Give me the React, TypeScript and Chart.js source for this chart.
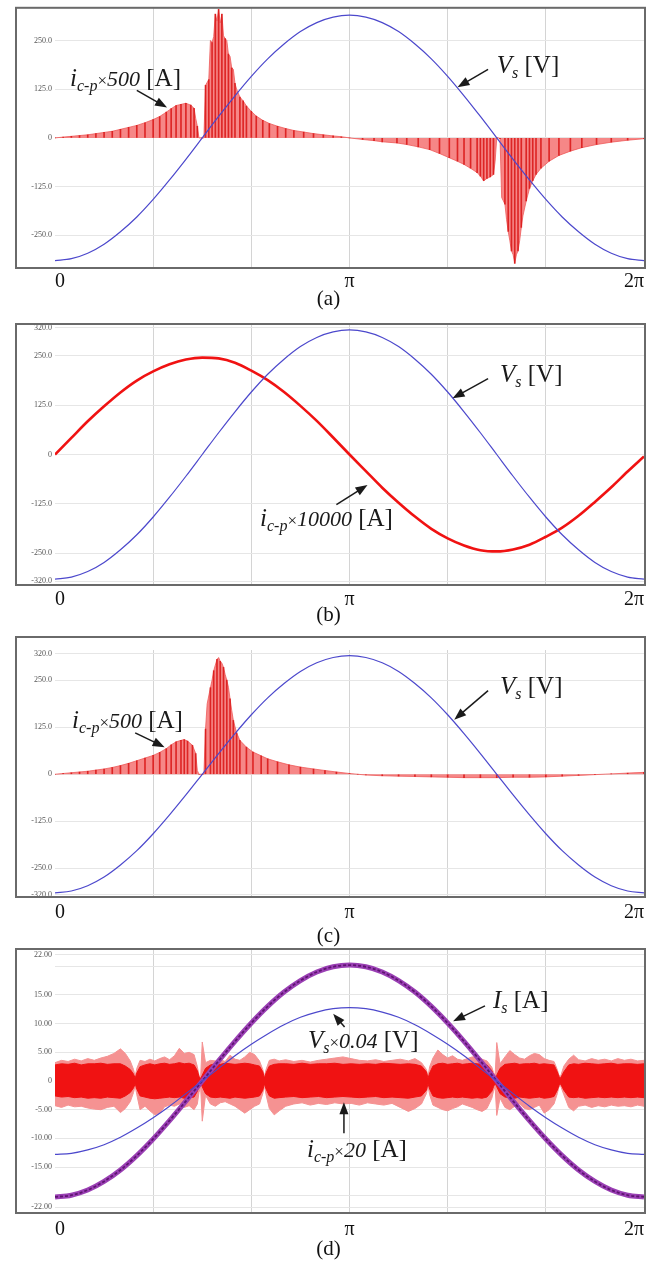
import React, { useEffect, useRef } from 'react';
import { Chart, registerables } from 'chart.js';

Chart.register(...registerables);

const SERIF = '"Liberation Serif", "Times New Roman", Times, serif';

// ---------- data (phase in degrees, 360 = 2π) ----------
const PHASE_DEG = [0, 10, 20, 30, 40, 50, 60, 70, 80, 90, 100, 110, 120, 130, 140, 150, 160, 170, 180, 190, 200, 210, 220, 230, 240, 250, 260, 270, 280, 290, 300, 310, 320, 330, 340, 350, 360];

// supply voltage Vs [V] (panels a, b, c)
const VS_V = [-315, -310, -296, -273, -241, -203, -158, -108, -55, 0, 55, 108, 158, 203, 241, 273, 296, 310, 315, 310, 296, 273, 241, 203, 158, 108, 55, 0, -55, -108, -158, -203, -241, -273, -296, -310, -315];

// panel (b): i_c-p × 10000 [A]
const B_ICP_X10000 = [0, 42, 84, 122, 157, 187, 210, 228, 240, 245, 243, 232, 212, 188, 158, 123, 85, 43, 0, -42, -84, -122, -157, -188, -212, -230, -242, -245, -240, -228, -208, -185, -155, -120, -83, -43, -5];

// panel (d): Vs × 0.04 [V] and Is [A]
const D_VS_X004 = [-12.8, -12.6, -12.0, -11.1, -9.8, -8.2, -6.4, -4.4, -2.2, 0, 2.2, 4.4, 6.4, 8.2, 9.8, 11.1, 12.0, 12.6, 12.8, 12.6, 12.0, 11.1, 9.8, 8.2, 6.4, 4.4, 2.2, 0, -2.2, -4.4, -6.4, -8.2, -9.8, -11.1, -12.0, -12.6, -12.8];
const D_IS = [-20.2, -19.9, -19.0, -17.5, -15.5, -13.0, -10.1, -6.9, -3.5, 0, 3.5, 6.9, 10.1, 13.0, 15.5, 17.5, 19.0, 19.9, 20.2, 19.9, 19.0, 17.5, 15.5, 13.0, 10.1, 6.9, 3.5, 0, -3.5, -6.9, -10.1, -13.0, -15.5, -17.5, -19.0, -19.9, -20.2];

// panel (a): i_c-p × 500 [A] (spike envelope)
const A_ICP_DEG = [
  0, 5, 10, 15, 20, 25, 30, 35, 40, 45, 50, 55, 60, 64, 68, 71, 74, 77, 80, 83,
  85, 86, 87, 88, 90, 91, 92, 94, 95, 96, 97, 98, 99, 100, 101, 102, 103, 104, 105, 106,
  107, 108, 109, 110, 111, 113, 115, 117, 120, 123, 127, 131, 136, 141, 146, 152, 158, 164, 170, 175,
  180, 188, 195, 200, 209, 215, 222, 229, 235, 241, 246, 250, 254, 258, 260, 262, 264, 266, 268, 269,
  270, 271, 272, 273, 275, 276, 277, 278, 279, 280, 281, 282, 283, 284, 285, 286, 288, 290, 292, 294,
  297, 302, 308, 315, 322, 331, 340, 350, 360];
const A_ICP_X500 = [
  0, 2, 4, 6, 8, 11, 14, 17, 22, 27, 32, 39, 47, 55, 66, 75, 83, 86, 89, 84,
  76, 50, 30, 0, 0, 0, 135, 150, 250, 245, 260, 318, 300, 330, 295, 318, 262, 255, 250, 215,
  209, 180, 176, 140, 125, 105, 95, 82, 68, 56, 45, 37, 30, 24, 19, 15, 11, 8, 5, 3,
  0, -4, -7, -10, -13, -17, -23, -30, -40, -51, -60, -68, -78, -89, -98, -110, -104, -100, -94, -60,
  0, 0, -2, -153, -170, -210, -240, -264, -290, -300, -322, -300, -290, -264, -230, -200, -162, -130, -110, -94,
  -78, -60, -45, -34, -25, -17, -11, -6, -2];

// panel (c): i_c-p × 500 [A]
const C_ICP_DEG = [
  0, 5, 10, 15, 20, 25, 30, 35, 40, 45, 50, 55, 60, 64, 68, 71, 74, 77, 79, 81,
  84, 86, 87, 88, 90, 91, 92, 93, 95, 96, 97, 98, 99, 100, 101, 102, 103, 104, 105, 106,
  107, 108, 109, 111, 113, 117, 121, 126, 130, 136, 143, 150, 158, 165, 172,
  180, 185, 190, 200, 210, 220, 230, 240, 250, 260, 270, 280, 290, 300, 310, 320, 330, 340, 350, 360];
const C_ICP_X500 = [
  0, 2, 4, 6, 8, 11, 14, 18, 23, 29, 36, 43, 50, 58, 68, 78, 86, 90, 92, 88,
  77, 55, 10, 0, 0, 0, 120, 187, 230, 250, 275, 290, 305, 310, 300, 295, 284, 265, 250, 231,
  200, 170, 143, 110, 90, 72, 59, 49, 41, 33, 25, 19, 14, 10, 6,
  2, 0, -2, -4, -5, -6, -7, -8, -9, -9, -9, -8, -8, -7, -5, -3, -1, 1, 3, 5];

// panel (d): i_c-p × 20 [A] — outer (light) and core (dark) band limits
const D_ICP_DEG = [
  0, 4, 8, 12, 16, 20, 24, 28, 32, 36,
  40, 43, 46, 48, 49, 50, 52, 55, 58, 61,
  64, 67, 70, 73, 76, 79, 82, 85, 87, 88,
  89, 90, 92, 95, 98, 101, 104, 107, 110, 113,
  116, 119, 122, 125, 127, 128, 129, 131, 134, 137,
  141, 146, 151, 156, 161, 166, 171, 176, 181, 186,
  191, 196, 201, 206, 211, 216, 220, 224, 227, 228,
  229, 231, 234, 237, 240, 243, 246, 249, 252, 255,
  258, 261, 264, 267, 268, 269, 270, 272, 275, 278,
  281, 284, 287, 290, 293, 296, 299, 302, 305, 307,
  308, 309, 311, 314, 317, 320, 324, 328, 332, 336,
  340, 344, 348, 352, 356, 360];
const D_ICP_UPPER = [
  3.2, 3.6, 3.4, 3.8, 3.5, 3.9, 3.6, 4.0, 4.3, 4.8,
  5.6, 4.8, 3.5, 2.0, 0.8, 2.2, 3.6, 3.4, 3.8, 3.5,
  3.9, 4.2, 3.7, 4.4, 5.7, 4.8, 5.0, 4.6, 2.5, 1.0,
  0.5, 6.8, 3.2, 3.6, 3.5, 3.7, 3.4, 4.5, 3.8, 3.6,
  4.2, 5.0, 4.6, 3.5, 2.0, 0.8, 2.0, 3.6, 3.8, 3.5,
  3.7, 3.4, 3.6, 3.3, 3.6, 3.8, 4.0, 4.2, 3.9, 3.6,
  3.5, 3.7, 3.4, 3.6, 3.8, 3.5, 3.9, 3.2, 2.0, 0.8,
  2.5, 4.0, 5.4, 4.6, 4.0, 4.4, 3.8, 3.6, 3.9, 4.2,
  4.2, 3.8, 3.5, 2.4, 1.5, 1.0, 6.7, 3.0, 4.2, 5.3,
  4.6, 4.0, 3.8, 4.4, 4.8, 4.6, 3.9, 3.6, 3.4, 2.0,
  1.0, 0.8, 2.6, 3.8, 4.5, 3.7, 3.5, 3.9, 3.6, 3.8,
  3.5, 3.9, 3.6, 3.8, 3.5, 3.6];
const D_ICP_LOWER = [
  -4.3, -4.6, -4.2, -4.5, -4.4, -4.7, -4.9, -5.0, -4.6, -4.4,
  -5.5, -4.8, -3.6, -2.0, -0.8, -2.4, -5.0, -4.4, -5.2, -5.9,
  -5.6, -4.5, -4.2, -4.4, -4.0, -4.6, -4.3, -5.0, -4.0, -2.0,
  -1.0, -7.0, -2.5, -4.0, -4.4, -3.8, -3.6, -4.0, -4.4, -5.0,
  -5.6, -5.0, -4.4, -4.0, -2.2, -0.8, -2.4, -4.8, -5.9, -5.2,
  -4.4, -4.0, -3.8, -4.2, -3.9, -4.1, -3.8, -4.0, -3.9, -4.2,
  -3.8, -4.0, -4.2, -3.9, -4.6, -5.3, -4.8, -4.0, -2.2, -0.8,
  -2.4, -4.2, -4.6, -5.0, -5.2, -4.8, -4.5, -4.0, -4.3, -4.6,
  -5.0, -5.3, -4.8, -3.0, -1.8, -1.0, -6.0, -3.0, -4.6, -5.0,
  -4.4, -4.0, -4.8, -5.0, -4.6, -4.2, -5.6, -5.0, -4.0, -2.2,
  -1.0, -0.8, -2.4, -4.6, -5.2, -4.4, -4.2, -4.6, -4.3, -4.5,
  -4.2, -4.4, -4.3, -4.5, -4.2, -4.4];
const D_ICP_CORE_UP = [
  2.8, 3.0, 2.9, 3.1, 2.8, 3.0, 3.0, 3.1, 2.9, 3.0,
  3.0, 2.6, 2.0, 1.2, 0.5, 1.4, 2.5, 2.8, 3.0, 2.8,
  3.0, 3.1, 2.9, 3.0, 3.2, 3.0, 3.1, 2.8, 1.8, 0.8,
  0.4, 1.0, 2.2, 2.8, 3.0, 2.9, 3.1, 3.0, 2.9, 3.0,
  3.1, 3.0, 2.8, 2.6, 1.6, 0.5, 1.4, 2.6, 2.9, 3.0,
  3.0, 2.9, 3.1, 2.9, 3.0, 3.0, 3.1, 2.9, 3.0, 2.9,
  3.0, 2.9, 3.1, 3.0, 2.9, 3.0, 2.9, 2.6, 1.6, 0.5,
  1.4, 2.6, 3.0, 3.1, 2.9, 3.0, 3.1, 2.9, 3.0, 3.1,
  3.0, 2.9, 2.8, 1.8, 1.0, 0.4, 1.0, 2.2, 2.9, 3.0,
  3.1, 2.9, 3.0, 3.0, 3.1, 2.9, 3.0, 2.9, 2.8, 1.6,
  0.8, 0.5, 1.6, 2.8, 3.0, 2.9, 3.1, 3.0, 2.9, 3.0,
  3.1, 2.9, 3.0, 3.0, 2.9, 3.0];
const D_ICP_CORE_DN = [
  -2.6, -2.8, -2.7, -2.9, -2.8, -3.0, -2.9, -3.0, -2.8, -2.9,
  -3.0, -2.6, -2.0, -1.2, -0.5, -1.4, -2.6, -2.8, -3.0, -3.1,
  -3.0, -2.9, -2.8, -2.9, -2.8, -3.0, -2.9, -2.8, -1.8, -0.8,
  -0.4, -1.0, -2.2, -2.8, -2.9, -2.8, -2.9, -3.0, -2.8, -2.9,
  -3.0, -2.9, -2.8, -2.6, -1.6, -0.5, -1.4, -2.6, -3.0, -2.9,
  -2.8, -2.7, -2.9, -2.8, -2.7, -2.9, -2.8, -2.7, -2.8, -2.9,
  -2.8, -2.7, -2.9, -2.8, -2.9, -3.0, -2.8, -2.6, -1.6, -0.5,
  -1.4, -2.6, -2.9, -3.0, -2.9, -2.8, -2.9, -2.8, -2.9, -3.0,
  -2.9, -3.0, -2.8, -1.8, -1.0, -0.4, -1.0, -2.2, -2.8, -2.9,
  -3.0, -2.8, -2.9, -3.0, -2.9, -2.8, -3.0, -2.9, -2.7, -1.6,
  -0.8, -0.5, -1.6, -2.8, -2.9, -2.8, -3.0, -2.9, -2.8, -2.9,
  -2.8, -2.9, -2.8, -2.9, -2.8, -2.9];

// ---------- ticks ----------
const X_TICKS = [0, 60, 120, 180, 240, 300, 360];
const X_TICK_LABELS: Record<number, string> = { 0: '0', 180: 'π', 360: '2π' };
const A_Y_TICKS = [-250, -125, 0, 125, 250];
const BC_Y_TICKS = [-320, -250, -125, 0, 125, 250, 320];
const D_Y_TICKS = [-22, -20, -15, -10, -5, 0, 5, 10, 15, 20, 22];
const D_Y_UNLABELED = [-20, 20];

// ---------- colours ----------
const BLUE = '#4c48cc';
const RED = '#f01212';
const RED_EDGE = '#ef5a5a';
const RED_SPIKE = 'rgba(212,0,0,0.72)';
const RED_LIGHT = 'rgba(245,125,125,0.92)';
const PINK = '#f59292';
const PURPLE = '#9a3fb4';
const PURPLE_DARK = '#5e1470';

const pts = (xs: number[], ys: number[]) => xs.map((x, i) => ({ x, y: ys[i] }));

// spike marks: same samples, but no two closer than 2°
const sparse = (xs: number[], ys: number[]) => {
  const out: { x: number; y: number }[] = [];
  let last = -99;
  xs.forEach((x, i) => {
    if (x - last >= 2) { out.push({ x, y: ys[i] }); last = x; }
  });
  return out;
};

type Part = { t: string; it?: boolean; sz: number; dy?: number };
const icpParts = (k: string): Part[] => [
  { t: 'i', it: true, sz: 25 },
  { t: 'c-p', it: true, sz: 16, dy: 5 },
  { t: '×', sz: 17 },
  { t: k, it: true, sz: 22 },
  { t: ' [A]', sz: 25 },
];
const vsParts: Part[] = [
  { t: 'V', it: true, sz: 25 },
  { t: 's', it: true, sz: 16, dy: 5 },
  { t: ' [V]', sz: 25 },
];
const vs004Parts: Part[] = [
  { t: 'V', it: true, sz: 25 },
  { t: 's', it: true, sz: 16, dy: 5 },
  { t: '×', sz: 17 },
  { t: '0.04', it: true, sz: 22 },
  { t: ' [V]', sz: 25 },
];
const isParts: Part[] = [
  { t: 'I', it: true, sz: 25 },
  { t: 's', it: true, sz: 16, dy: 5 },
  { t: ' [A]', sz: 25 },
];

type Note = { labels: { at: [number, number]; parts: Part[] }[]; arrows: { from: [number, number]; to: [number, number] }[] };

type PanelCfg = {
  top: number; height: number; padTop: number; frameExtra: number; tickPad: number;
  yMin: number; yMax: number; yTicks: number[]; yFmt: (v: number) => string;
  datasets: any[]; notes: Note;
};

const fmt1 = (v: number) => (v === 0 ? '0' : v.toFixed(1));
const fmt2 = (v: number) => (v === 0 ? '0' : D_Y_UNLABELED.includes(v) ? '' : v.toFixed(2));

const line = (data: any[], color: string, width: number, extra: any = {}) => ({
  data, borderColor: color, borderWidth: width, pointRadius: 0, fill: false,
  cubicInterpolationMode: 'monotone', ...extra,
});

const spikeSets = (deg: number[], vals: number[], label: string) => [
  {
    label, data: pts(deg, vals), borderColor: RED_EDGE, borderWidth: 0.8, backgroundColor: RED_LIGHT,
    fill: 'origin', pointRadius: 0, tension: 0, order: 3,
  },
  {
    type: 'bar', label: label + ' spikes', data: sparse(deg, vals), backgroundColor: RED_SPIKE,
    barThickness: 1, order: 2,
  },
];

const PANELS: PanelCfg[] = [
  {
    top: 0, height: 298, padTop: 6, frameExtra: 0, tickPad: 2,
    yMin: -334, yMax: 334, yTicks: A_Y_TICKS, yFmt: fmt1,
    datasets: [
      line(pts(PHASE_DEG, VS_V), BLUE, 1.2, { label: 'Vs [V]', order: 0 }),
      ...spikeSets(A_ICP_DEG, A_ICP_X500, 'i_c-p ×500 [A]'),
    ],
    notes: {
      labels: [{ at: [9.2, 133], parts: icpParts('500') }, { at: [270, 166], parts: vsParts }],
      arrows: [{ from: [50, 122], to: [68.5, 78] }, { from: [264.7, 176], to: [246, 130] }],
    },
  },
  {
    top: 310, height: 305, padTop: 14, frameExtra: 0, tickPad: 3,
    yMin: -330, yMax: 330, yTicks: BC_Y_TICKS, yFmt: fmt1,
    datasets: [
      line(pts(PHASE_DEG, VS_V), BLUE, 1.2, { label: 'Vs [V]', order: 0 }),
      line(pts(PHASE_DEG, B_ICP_X10000), RED, 2.6, { label: 'i_c-p ×10000 [A]', order: 1 }),
    ],
    notes: {
      labels: [{ at: [272, 184], parts: vsParts }, { at: [125.3, -182], parts: icpParts('10000') }],
      arrows: [{ from: [264.7, 192], to: [243, 142] }, { from: [172, -127], to: [191, -77] }],
    },
  },
  {
    top: 624, height: 303, padTop: 26, frameExtra: 13, tickPad: 4,
    yMin: -326, yMax: 330, yTicks: BC_Y_TICKS, yFmt: fmt1,
    datasets: [
      line(pts(PHASE_DEG, VS_V), BLUE, 1.2, { label: 'Vs [V]', order: 0 }),
      ...spikeSets(C_ICP_DEG, C_ICP_X500, 'i_c-p ×500 [A]'),
    ],
    notes: {
      labels: [{ at: [10.4, 123], parts: icpParts('500') }, { at: [272, 212], parts: vsParts }],
      arrows: [{ from: [49, 110], to: [67, 72] }, { from: [264.7, 222], to: [244, 145] }],
    },
  },
  {
    top: 940, height: 303, padTop: 9, frameExtra: 0, tickPad: 5,
    yMin: -23, yMax: 23, yTicks: D_Y_TICKS, yFmt: fmt2,
    datasets: [
      line(pts(PHASE_DEG, D_VS_X004), BLUE, 1.2, { label: 'Vs ×0.04 [V]', order: 0 }),
      line(pts(PHASE_DEG, D_IS), PURPLE_DARK, 1.8, { label: 'Is [A] core', order: 1, borderDash: [3, 2] }),
      line(pts(PHASE_DEG, D_IS), PURPLE, 5, { label: 'Is [A]', order: 2 }),
      {
        label: 'i_c-p ×20 [A] (outer)', data: pts(D_ICP_DEG, D_ICP_UPPER), borderColor: PINK, borderWidth: 1,
        backgroundColor: PINK, fill: '+1', pointRadius: 0, tension: 0, order: 5,
      },
      {
        label: 'i_c-p ×20 [A] (outer low)', data: pts(D_ICP_DEG, D_ICP_LOWER), borderColor: PINK, borderWidth: 1,
        fill: false, pointRadius: 0, tension: 0, order: 6,
      },
      {
        label: 'i_c-p ×20 [A]', data: pts(D_ICP_DEG, D_ICP_CORE_UP), borderColor: RED, borderWidth: 1,
        backgroundColor: RED, fill: '+1', pointRadius: 0, tension: 0, order: 3,
      },
      {
        label: 'i_c-p ×20 [A] (core low)', data: pts(D_ICP_DEG, D_ICP_CORE_DN), borderColor: RED, borderWidth: 1,
        fill: false, pointRadius: 0, tension: 0, order: 4,
      },
    ],
    notes: {
      labels: [
        { at: [267.7, 12.8], parts: isParts },
        { at: [154.6, 5.8], parts: vs004Parts },
        { at: [154, -13.2], parts: icpParts('20') },
      ],
      arrows: [
        { from: [262.8, 13.1], to: [243.3, 10.4] },
        { from: [177, 9.4], to: [170, 11.7] },
        { from: [176.6, -9.1], to: [176.6, -3.7] },
      ],
    },
  },
];

function drawArrow(ctx: CanvasRenderingContext2D, x1: number, y1: number, x2: number, y2: number) {
  const ang = Math.atan2(y2 - y1, x2 - x1);
  const L = 12, W = 4.5;
  ctx.beginPath();
  ctx.moveTo(x1, y1);
  ctx.lineTo(x2 - Math.cos(ang) * L * 0.8, y2 - Math.sin(ang) * L * 0.8);
  ctx.stroke();
  ctx.beginPath();
  ctx.moveTo(x2, y2);
  ctx.lineTo(x2 - Math.cos(ang) * L + Math.sin(ang) * W, y2 - Math.sin(ang) * L - Math.cos(ang) * W);
  ctx.lineTo(x2 - Math.cos(ang) * L - Math.sin(ang) * W, y2 - Math.sin(ang) * L + Math.cos(ang) * W);
  ctx.closePath();
  ctx.fill();
}

function buildConfig(p: PanelCfg): any {
  const framePlugin = {
    id: 'frame',
    afterDraw(chart: any) {
      const { ctx, chartArea } = chart;
      ctx.save();
      ctx.strokeStyle = '#6a6a6a';
      ctx.lineWidth = 2;
      const top = chartArea.top - p.frameExtra;
      ctx.strokeRect(16, top, chartArea.right + 1 - 16, chartArea.bottom - top);
      ctx.restore();
    },
  };
  const notesPlugin = {
    id: 'notes',
    afterDatasetsDraw(chart: any) {
      const { ctx, scales } = chart;
      const X = (v: number) => scales.x.getPixelForValue(v);
      const Y = (v: number) => scales.y.getPixelForValue(v);
      ctx.save();
      ctx.fillStyle = '#1a1a1a';
      ctx.strokeStyle = '#1a1a1a';
      ctx.lineWidth = 1.5;
      ctx.textBaseline = 'alphabetic';
      p.notes.labels.forEach((lb) => {
        let x = X(lb.at[0]);
        const y = Y(lb.at[1]);
        lb.parts.forEach((part) => {
          ctx.font = `${part.it ? 'italic ' : ''}${part.sz}px ${SERIF}`;
          ctx.fillText(part.t, x, y + (part.dy || 0));
          x += ctx.measureText(part.t).width;
        });
      });
      p.notes.arrows.forEach((a) => {
        drawArrow(ctx, X(a.from[0]), Y(a.from[1]), X(a.to[0]), Y(a.to[1]));
      });
      ctx.restore();
    },
  };
  return {
    type: 'line',
    data: { datasets: p.datasets },
    options: {
      animation: false,
      responsive: false,
      maintainAspectRatio: false,
      layout: { padding: { top: p.padTop, right: 8, bottom: 0, left: 0 } },
      plugins: { legend: { display: false }, tooltip: { enabled: false } },
      scales: {
        x: {
          type: 'linear', min: 0, max: 360, offset: false,
          afterBuildTicks: (s: any) => { s.ticks = X_TICKS.map((value) => ({ value })); },
          afterFit: (s: any) => { s.height = 30; },
          border: { display: false },
          grid: {
            offset: false, drawTicks: false,
            color: (c: any) => (c.tick && (c.tick.value === 0 || c.tick.value === 360) ? 'rgba(0,0,0,0)' : '#d4d4d4'),
          },
          ticks: {
            align: 'inner', padding: p.tickPad, autoSkip: false, maxRotation: 0,
            color: '#111', font: { family: SERIF, size: 20 },
            callback: (v: any) => X_TICK_LABELS[v as number] ?? '',
          },
        },
        y: {
          type: 'linear', min: p.yMin, max: p.yMax,
          afterBuildTicks: (s: any) => { s.ticks = p.yTicks.map((value) => ({ value })); },
          afterFit: (s: any) => { s.width = 55; },
          border: { display: false },
          grid: { drawTicks: false, color: '#e6e6e6' },
          ticks: {
            padding: 3, autoSkip: false, color: '#555', font: { family: SERIF, size: 8 },
            callback: (v: any) => p.yFmt(v as number),
          },
        },
      },
    },
    plugins: [framePlugin, notesPlugin],
  };
}

function Panel({ p }: { p: PanelCfg }) {
  const ref = useRef<HTMLCanvasElement>(null);
  useEffect(() => {
    const chart = new Chart(ref.current as HTMLCanvasElement, buildConfig(p));
    return () => chart.destroy();
  }, [p]);
  return (
    <canvas
      ref={ref}
      width={652}
      height={p.height}
      style={{ position: 'absolute', left: 0, top: p.top, width: 652, height: p.height }}
    />
  );
}

const CAPTIONS = [
  { text: '(a)', top: 288 },
  { text: '(b)', top: 604 },
  { text: '(c)', top: 925 },
  { text: '(d)', top: 1238 },
];

export default function App() {
  return (
    <div style={{ position: 'absolute', left: 0, top: 0, width: 657, height: 1263, background: '#fff', overflow: 'hidden' }}>
      {PANELS.map((p, i) => <Panel key={i} p={p} />)}
      {CAPTIONS.map((c) => (
        <div
          key={c.text}
          style={{
            position: 'absolute', left: 0, width: 657, top: c.top, textAlign: 'center',
            fontFamily: SERIF, fontSize: 21, lineHeight: '21px', color: '#111', paddingRight: 2,
          }}
        >
          {c.text}
        </div>
      ))}
    </div>
  );
}
